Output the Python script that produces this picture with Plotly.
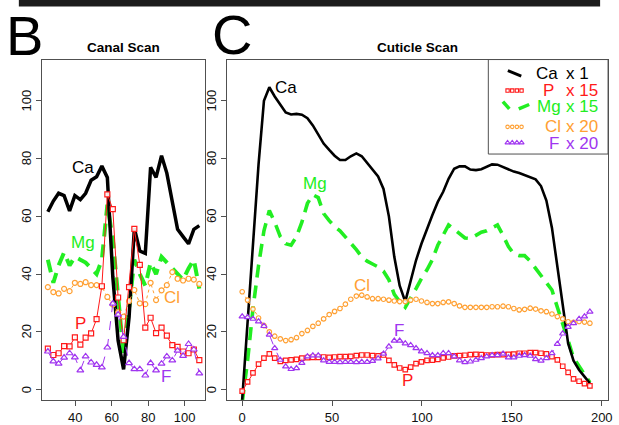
import plotly.graph_objects as go

W, H = 619, 425
FONT = "Liberation Sans, Arial, Helvetica, sans-serif"

# ---------------- Panel B: Canal Scan ----------------
canal_x = [25.0, 28.0, 30.9, 33.9, 36.9, 39.8, 42.8, 45.7, 48.7, 51.7, 54.6, 57.6, 60.6, 63.5,
           66.5, 69.5, 72.4, 75.4, 78.4, 81.3, 84.3, 87.3, 90.2, 93.2, 96.1, 99.1, 102.1, 105.0, 108.0]
canal_ca = [61.6, 65.3, 68.0, 67.2, 61.9, 67.2, 65.8, 68.0, 72.5, 73.7, 77.4, 73.5, 39.0, 17.0,
            7.0, 25.0, 55.8, 48.0, 47.2, 77.0, 73.5, 81.0, 75.0, 64.5, 55.5, 53.0, 50.5, 55.5, 56.8]
canal_p = [14.2, 12.0, 12.6, 15.1, 15.0, 18.1, 15.6, 18.0, 19.5, 24.4, 35.8, 67.6, 62.5, 31.9,
           17.1, 35.5, 55.7, 43.2, 21.5, 24.9, 19.6, 21.5, 18.7, 15.4, 14.8, 13.2, 12.6, 13.9, 10.2]
canal_mg = [45.0, 37.0, 43.0, 47.5, 43.0, 46.0, 45.0, 44.0, 42.0, 40.0, 45.0, 64.0, 52.0, 33.0,
            12.0, 28.0, 45.0, 40.0, 36.0, 44.0, 40.0, 46.0, 44.0, 42.0, 40.0, 38.0, 42.0, 45.0, 35.0]
canal_cl = [35.5, 33.8, 33.3, 34.9, 34.1, 37.0, 36.6, 37.2, 36.2, 36.2, 35.6, 32.1, 29.5, 26.8,
            25.3, 30.7, 34.5, 29.9, 29.6, 37.0, 31.0, 34.4, 36.2, 40.7, 38.4, 37.8, 38.4, 38.1, 36.6]
canal_f = [13.2, 9.8, 9.0, 11.1, 12.6, 11.2, 6.7, 11.5, 9.4, 8.6, 7.7, 14.6, 29.8, 26.0,
           18.3, 9.2, 7.1, 7.1, 4.9, 9.2, 6.7, 9.0, 11.5, 10.1, 13.5, 11.7, 15.8, 13.9, 5.6]

# ---------------- Panel C: Cuticle Scan ----------------
cut_x = [0.0, 3.0, 6.0, 9.1, 12.1, 15.1, 18.1, 21.2, 24.2, 27.2, 30.2, 33.2, 36.3, 39.3, 42.3,
         45.3, 48.4, 51.4, 54.4, 57.4, 60.4, 63.5, 66.5, 69.5, 72.5, 75.6, 78.6, 81.6, 84.6, 87.6,
         90.7, 93.7, 96.7, 99.7, 102.8, 105.8, 108.8, 111.8, 114.8, 117.9, 120.9, 123.9, 126.9,
         130.0, 133.0, 136.0, 139.0, 142.0, 145.1, 148.1, 151.1, 154.1, 157.1, 160.2, 163.2,
         166.2, 169.2, 172.3, 175.3, 178.3, 181.3, 184.3, 187.4, 190.4, 193.4]
cut_ca = [-3.5, 24.0, 51.0, 78.0, 100.0, 104.7, 101.5, 98.5, 96.0, 95.3, 95.5, 95.2, 94.0, 91.5,
          88.3, 85.2, 83.0, 81.0, 79.5, 79.5, 80.8, 81.8, 80.8, 78.5, 76.0, 73.8, 69.5, 60.0,
          46.0, 36.0, 30.5, 37.5, 44.8, 50.5, 55.8, 60.5, 65.0, 68.5, 73.0, 76.5, 77.3, 77.3,
          76.2, 76.0, 76.3, 77.2, 78.0, 77.9, 77.0, 76.2, 75.5, 75.0, 74.3, 73.7, 72.8, 70.5,
          65.5, 56.0, 43.0, 28.5, 16.0, 10.0, 6.8, 4.5, 2.2]
cut_mg = [-4.5, 10.0, 28.0, 43.0, 55.0, 62.0, 58.0, 53.0, 50.5, 50.0, 53.0, 58.0, 64.5, 67.5,
          66.5, 61.0, 58.5, 56.5, 55.0, 53.0, 51.0, 48.5, 46.0, 44.5, 43.5, 42.5, 41.0, 38.0,
          33.0, 30.5, 28.5, 31.5, 35.0, 38.5, 41.5, 45.0, 50.0, 53.5, 57.0, 55.5, 53.8, 52.5,
          52.3, 53.5, 54.5, 55.0, 56.0, 57.0, 53.4, 49.5, 47.0, 46.4, 46.4, 44.5, 42.0, 39.5,
          37.0, 34.5, 28.5, 23.0, 17.0, 11.0, 8.0, 5.0, 2.5]
cut_p = [-0.5, 2.7, 5.8, 8.8, 10.9, 12.4, 10.9, 9.8, 10.1, 10.3, 10.5, 10.9, 11.1, 11.2, 11.2,
         11.3, 11.2, 11.3, 11.4, 11.4, 11.5, 11.8, 12.0, 12.0, 11.8, 11.7, 12.0, 10.1, 8.6, 7.5,
         6.9, 7.8, 9.0, 9.6, 10.1, 10.2, 10.5, 11.0, 11.3, 11.7, 11.8, 11.9, 12.1, 12.2, 12.1,
         12.0, 12.0, 12.1, 12.1, 12.2, 12.3, 12.6, 12.6, 12.8, 12.8, 12.6, 12.4, 11.4, 10.3,
         8.1, 6.0, 3.7, 2.9, 2.1, 1.3]
cut_cl = [33.9, 31.0, 27.9, 24.8, 22.2, 20.0, 18.5, 17.6, 17.0, 17.3, 18.0, 19.4, 20.5, 21.9,
          23.0, 24.5, 26.0, 27.1, 28.1, 29.6, 31.3, 32.4, 32.7, 32.1, 31.5, 31.5, 31.3, 31.0,
          30.7, 30.5, 30.5, 31.0, 31.3, 30.7, 30.2, 29.8, 29.8, 30.2, 30.4, 29.8, 29.0, 28.5,
          28.5, 28.5, 28.5, 28.5, 28.7, 28.7, 28.9, 28.7, 28.1, 27.6, 27.8, 28.2, 27.9, 27.3,
          27.0, 26.2, 25.3, 24.5, 23.5, 23.3, 23.6, 23.4, 23.0]
cut_f = [25.3, 25.1, 24.5, 23.6, 22.0, 19.0, 14.3, 10.3, 8.0, 7.1, 7.4, 9.2, 11.5, 11.8, 11.8,
         10.1, 9.6, 9.6, 9.5, 9.6, 9.6, 9.5, 9.6, 9.6, 9.9, 10.8, 12.4, 14.9, 16.9, 16.9, 16.0,
         15.4, 14.3, 13.2, 12.6, 11.9, 11.9, 12.6, 12.6, 11.5, 10.1, 9.5, 9.7, 10.3, 10.9, 11.5,
         11.9, 11.9, 12.4, 11.1, 11.1, 11.7, 11.9, 11.7, 10.5, 10.0, 10.9, 12.6, 15.8, 19.4,
         21.7, 23.0, 24.5, 25.3, 27.0]

# tick labels
canal_ticks = [40, 60, 80, 100]
cut_ticks = [0, 50, 100, 150, 200]
y_ticks = [0, 20, 40, 60, 80, 100]

legend_names = ["Ca", "P", "Mg", "Cl", "F"]
legend_factors = ["x 1", "x 15", "x 15", "x 20", "x 20"]

BLACK = "#000000"
RED = "#FF1A1A"
GREEN = "#22EE22"
ORANGE = "#FFA033"
PURPLE = "#A035F0"

fig = go.Figure()


def add_panel(xs, ca, mg, cl, p, f, xa, ya, ca_w, mg_w, msz):
    fig.add_trace(go.Scatter(x=xs, y=mg, mode="lines", xaxis=xa, yaxis=ya,
                             line=dict(color=GREEN, width=mg_w, dash="13px,8px")))
    fig.add_trace(go.Scatter(x=xs, y=ca, mode="lines", xaxis=xa, yaxis=ya,
                             line=dict(color=BLACK, width=ca_w)))
    fig.add_trace(go.Scatter(x=xs, y=cl, mode="lines+markers", xaxis=xa, yaxis=ya,
                             line=dict(color=ORANGE, width=1, dash="dot"),
                             marker=dict(symbol="circle", size=msz, color="rgba(255,255,255,0.9)",
                                         line=dict(color=ORANGE, width=1.2))))
    fig.add_trace(go.Scatter(x=xs, y=p, mode="lines+markers", xaxis=xa, yaxis=ya,
                             line=dict(color=RED, width=1),
                             marker=dict(symbol="square", size=msz, color="rgba(255,255,255,0.9)",
                                         line=dict(color=RED, width=1.2))))
    fig.add_trace(go.Scatter(x=xs, y=f, mode="lines+markers", xaxis=xa, yaxis=ya,
                             line=dict(color=PURPLE, width=1, dash="dash"),
                             marker=dict(symbol="triangle-up", size=msz + 1, color="rgba(255,255,255,0.9)",
                                         line=dict(color=PURPLE, width=1.2))))


add_panel(canal_x, canal_ca, canal_mg, canal_cl, canal_p, canal_f, "x", "y", 3.5, 4, 5)
add_panel(cut_x, cut_ca, cut_mg, cut_cl, cut_p, cut_f, "x2", "y2", 2.6, 3.6, 4.5)

# legend key markers (overlay pixel axis)
key_x = [511.7, 516.4, 521.1, 525.8]
fig.add_trace(go.Scatter(x=key_x, y=[92.3] * 4, mode="markers", xaxis="x3", yaxis="y3",
                         marker=dict(symbol="square", size=3.3, color="white", line=dict(color=RED, width=1.1))))
fig.add_trace(go.Scatter(x=key_x, y=[129.3] * 4, mode="markers", xaxis="x3", yaxis="y3",
                         marker=dict(symbol="circle", size=3.5, color="white", line=dict(color=ORANGE, width=1.1))))
fig.add_trace(go.Scatter(x=key_x, y=[145.5] * 4, mode="markers", xaxis="x3", yaxis="y3",
                         marker=dict(symbol="triangle-up", size=4.5, color="white", line=dict(color=PURPLE, width=1.1))))

axc = dict(showline=True, linecolor="#505050", linewidth=1, mirror=True, ticks="outside",
           ticklen=5, tickwidth=1, tickcolor="#505050", showgrid=False, zeroline=False,
           tickfont=dict(family=FONT, size=13, color="#111111"))
ydom = [1 - 408 / H, 1 - 60.7 / H]

fig.update_layout(
    width=W, height=H, margin=dict(l=0, r=0, t=0, b=0),
    paper_bgcolor="white", plot_bgcolor="rgba(0,0,0,0)", showlegend=False,
    xaxis=dict(domain=[42 / W, 207 / W], range=[21.6, 111.3], tickvals=canal_ticks, anchor="y", **axc),
    yaxis=dict(domain=ydom, range=[-3.7, 114.3], tickvals=y_ticks, showticklabels=False, anchor="x", **axc),
    xaxis2=dict(domain=[229.3 / W, 613 / W], range=[-8.2, 203.5], tickvals=cut_ticks, anchor="y2", **axc),
    yaxis2=dict(domain=ydom, range=[-3.7, 114.3], tickvals=y_ticks, showticklabels=False, anchor="x2", **axc),
    xaxis3=dict(domain=[0, 1], range=[0, W], visible=False, anchor="y3"),
    yaxis3=dict(domain=[0, 1], range=[H, 0], visible=False, anchor="x3"),
)


def P(xp, yp):
    return xp / W, 1 - yp / H


shapes = []
# top dark bar
shapes.append(dict(type="rect", xref="paper", yref="paper", x0=19 / W, x1=605 / W, y0=1 - 6.7 / H, y1=1,
                   fillcolor="#1c1c1c", line=dict(width=0)))
# legend box
shapes.append(dict(type="rect", xref="paper", yref="paper", x0=492.3 / W, x1=613 / W,
                   y0=1 - 157 / H, y1=1 - 60.7 / H, line=dict(color="#505050", width=1)))


def seg(x0, y0, x1, y1, color, width):
    a, b = P(x0, y0)
    c, d = P(x1, y1)
    shapes.append(dict(type="line", xref="paper", yref="paper", x0=a, y0=b, x1=c, y1=d,
                       line=dict(color=color, width=width)))


seg(512, 72, 525.5, 77.5, BLACK, 3)
seg(507, 103.5, 513.5, 111, GREEN, 3.5)
seg(523, 111, 533.5, 106.5, GREEN, 3.5)
fig.update_layout(shapes=shapes)

ann = []


def txt(t, xp, yp, size, color, xanchor="center", bold=False, xref="paper", yref="paper", angle=0):
    xx = xp / W if xref == "paper" else xp
    yy = 1 - yp / H if yref == "paper" else yp
    ann.append(dict(text=("<b>%s</b>" % t) if bold else t, x=xx, y=yy, xref=xref, yref=yref,
                    xanchor=xanchor, yanchor="middle", showarrow=False, textangle=angle,
                    font=dict(family=FONT, size=size, color=color)))


# y tick labels (rotated, R style)
for v in y_ticks:
    txt(str(v), 26.8, v, 13, "#111111", yref="y", angle=-90)
    txt(str(v), 213.3, v, 13, "#111111", yref="y2", angle=-90)

# panel letters and titles
txt("B", 25, 36, 56, BLACK)
txt("C", 234, 35, 56, BLACK)
txt("Canal Scan", 125, 48, 13.5, BLACK, bold=True)
txt("Cuticle Scan", 421, 48, 13.5, BLACK, bold=True)

# in-plot labels (data coordinates)
txt("Ca", 44.3, 76.9, 17, BLACK, xref="x", yref="y")
txt("Mg", 44.1, 51.0, 17, GREEN, xref="x", yref="y")
txt("P", 43.1, 22.8, 17, RED, xref="x", yref="y")
txt("Cl", 92.9, 31.9, 17, ORANGE, xref="x", yref="y")
txt("F", 89.6, 4.7, 17, PURPLE, xref="x", yref="y")

txt("Ca", 24.2, 104.5, 17, BLACK, xref="x2", yref="y2")
txt("Mg", 40.3, 71.3, 17, GREEN, xref="x2", yref="y2")
txt("Cl", 66.6, 36.0, 17, ORANGE, xref="x2", yref="y2")
txt("F", 87.5, 20.5, 17, PURPLE, xref="x2", yref="y2")
txt("P", 91.9, 3.0, 17, RED, xref="x2", yref="y2")

# legend texts
leg_colors = [BLACK, RED, GREEN, ORANGE, PURPLE]
leg_y = [75, 92.3, 109, 129.3, 146]
leg_name_x = [538, 545, 539, 547, 551]
for name, fac, col, yy, nx in zip(legend_names, legend_factors, leg_colors, leg_y, leg_name_x):
    txt(name, nx, yy, 17, col, xanchor="left")
    txt(fac, 569, yy, 17, col, xanchor="left")

fig.update_layout(annotations=ann)
fig.write_html("out.html", config={"displayModeBar": False},
               post_script="document.body.style.margin='0px';document.body.style.overflow='hidden';")
